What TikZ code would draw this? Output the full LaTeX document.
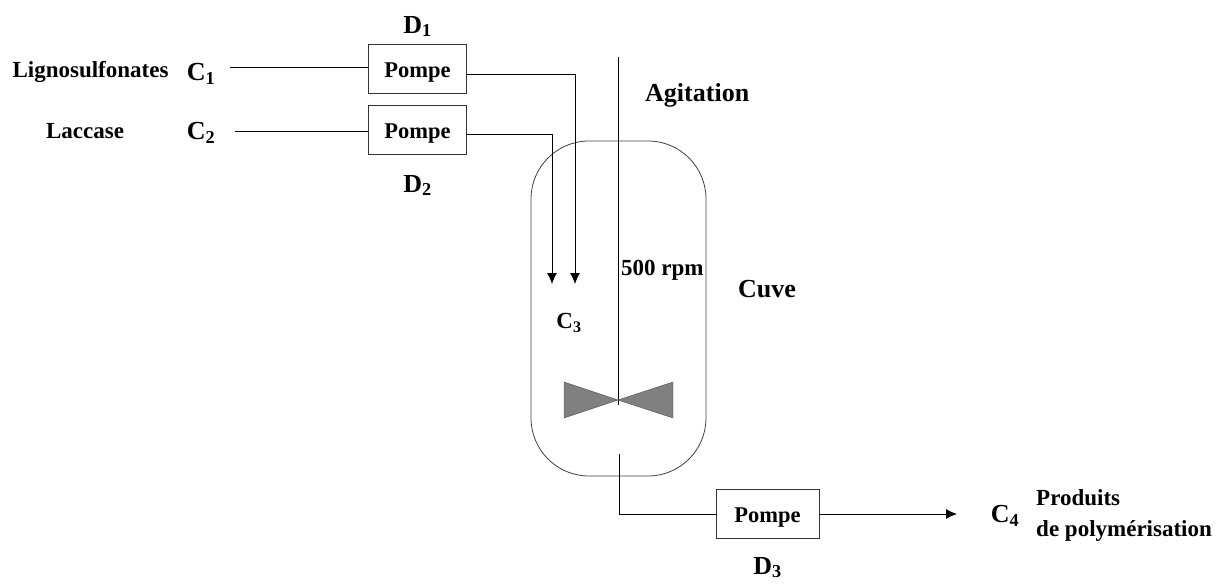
\documentclass[tikz,border=0pt]{standalone}
\usepackage{fontspec}
\setmainfont{Liberation Serif}
\usetikzlibrary{positioning, arrows.meta}
\tikzset{
    pompebox/.style={rectangle, draw=black!80, line width=0.9pt, minimum width=98pt, minimum height=49pt, text height=21pt, text depth=4.6pt, align=center, font=\fontsize{22.5}{24}\selectfont\bfseries},
    tag/.style={inner sep=0pt, align=center, font=\fontsize{26}{28}\selectfont\bfseries},
    smalltag/.style={inner sep=0pt, align=center, font=\fontsize{23}{26}\selectfont\bfseries},
    pipe/.style={draw=black, line width=0.9pt},
    flow/.style={pipe, -{Latex[length=11pt, width=10pt]}},
}
\begin{document}
\begin{tikzpicture}[x=1pt, y=-1pt]
\useasboundingbox (0,0) rectangle (1222,585);
% cuve
\draw[draw=black!75, line width=0.8pt, rounded corners=58pt] (531,141) rectangle (706,476);
% pompes
\node[pompebox] (p1) at (417.5,69) {Pompe};
\node[pompebox, below=11pt of p1] (p2) {Pompe};
\node[pompebox, minimum width=103pt] (p3) at (767.5,514) {Pompe};
\node[tag, above=7pt of p1] (d1) {D\textsubscript{1}};
\node[tag, below=20pt of p2] (d2) {D\textsubscript{2}};
\node[tag, below=18pt of p3] (d3) {D\textsubscript{3}};
% labels
\node[smalltag] (ligno) at (90.5,72) {Lignosulfonates};
\node[smalltag] (lacc) at (85,131) {Laccase};
\node[tag] (c1) at (201,74) {C\textsubscript{1}};
\node[tag] (c2) at (201,133) {C\textsubscript{2}};
\node[smalltag] (c3) at (569,323) {C\textsubscript{3}};
\node[tag] (c4) at (1005,516) {C\textsubscript{4}};
\node[smalltag, anchor=west] (prod) at (1036,498) {Produits};
\node[smalltag, anchor=west] (polym) at (1036,531) {de polymérisation};
\node[tag, anchor=west] (agit) at (645,95) {Agitation};
\node[tag, anchor=west] (cuve) at (738,289) {Cuve};
\node[smalltag, anchor=west] (rpm) at (621,270) {500 rpm};
% conduites
\coordinate (in1) at (230,67);
\coordinate (in2) at (235,131);
\coordinate (tip1) at (575,284);
\coordinate (tip2) at (552,284);
\draw[pipe] (in1) -- (in1 -| p1.west);
\draw[pipe] (in2) -- (in2 -| p2.west);
\draw[flow] ([yshift=-5pt]p1.east) -| (tip1);
\draw[flow] ([yshift=-5pt]p2.east) -| (tip2);
% agitation
\coordinate (top) at (618,57);
\coordinate (hub) at (618,400);
\coordinate (end) at (618,405);
\draw[pipe] (top) -- (end);
\fill[fill=black!50, draw=black!70] (hub) -- (564,382) -- (564,418) -- cycle;
\fill[fill=black!50, draw=black!70] (hub) -- (673,382) -- (673,418) -- cycle;
% sortie
\coordinate (out) at (619,454);
\coordinate (tip3) at (957,514);
\draw[pipe] (out) |- (p3.west);
\draw[flow] (p3.east) -- (tip3);
\end{tikzpicture}
\end{document}
